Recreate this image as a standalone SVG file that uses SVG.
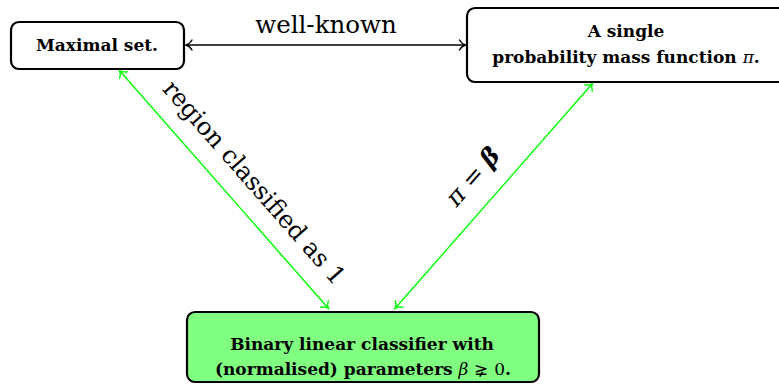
<svg xmlns="http://www.w3.org/2000/svg" width="779" height="384" viewBox="0 0 779 384">
  <style>
    .box { fill: #ffffff; stroke: #000000; stroke-width: 2.2; }
    .box.green { fill: #80ff80; }
    .nodetext { font-family: "DejaVu Serif", "Liberation Serif", serif; font-weight: bold; font-size: 17px; fill: #000000; text-anchor: middle; }
    .math { font-weight: normal; font-style: italic; }
    .mathup { font-weight: normal; }
    .label { font-family: "DejaVu Serif", "Liberation Serif", serif; font-size: 24.5px; fill: #000000; text-anchor: middle; }
    .edge { fill: none; stroke-width: 1.4; }
    .edge.black { stroke: #000000; marker-start: url(#tipBlack); marker-end: url(#tipBlack); }
    .edge.green { stroke: #00ff00; marker-start: url(#tipGreen); marker-end: url(#tipGreen); }
  </style>
  <defs>
    <marker id="tipBlack" viewBox="-9 -7 11 14" markerWidth="11" markerHeight="14" refX="0" refY="0" markerUnits="userSpaceOnUse" orient="auto-start-reverse">
      <path d="M -6 -5 C -4.5 -2.2, -2 -0.6, 0 0 C -2 0.6, -4.5 2.2, -6 5" fill="none" stroke="#000000" stroke-width="1.4" stroke-linecap="round"/>
    </marker>
    <marker id="tipGreen" viewBox="-9 -7 11 14" markerWidth="11" markerHeight="14" refX="0" refY="0" markerUnits="userSpaceOnUse" orient="auto-start-reverse">
      <path d="M -6 -5 C -4.5 -2.2, -2 -0.6, 0 0 C -2 0.6, -4.5 2.2, -6 5" fill="none" stroke="#00ff00" stroke-width="1.4" stroke-linecap="round"/>
    </marker>
  </defs>

  <!-- connectors -->
  <g id="connectors">
    <line class="edge black" x1="186" y1="45" x2="465.5" y2="45"/>
    <text class="label" x="326" y="33">well-known</text>

    <line class="edge green" x1="119.5" y1="70.5" x2="328.5" y2="308.5"/>
    <text class="label" transform="translate(248 188) rotate(48.7)">region classified as 1</text>

    <line class="edge green" x1="395" y1="308.5" x2="592.5" y2="83.5"/>
    <text class="label" font-size="27" transform="translate(479 182) rotate(-48.7)"><tspan class="math">π</tspan> = <tspan font-weight="bold" font-style="italic">β</tspan></text>
  </g>

  <!-- nodes -->
  <g id="maximal-set">
    <rect class="box" x="11" y="22" width="173" height="47" rx="8"/>
    <text class="nodetext" x="97" y="51">Maximal set.</text>
  </g>

  <g id="pmf">
    <rect class="box" x="467" y="8" width="320" height="74" rx="8"/>
    <text class="nodetext" x="626" y="37">A single</text>
    <text class="nodetext" x="626" y="63">probability mass function <tspan class="math">π</tspan>.</text>
  </g>

  <g id="classifier">
    <rect class="box green" x="187" y="312" width="352" height="70" rx="8"/>
    <text class="nodetext" x="362" y="350">Binary linear classifier with</text>
    <text class="nodetext" x="363" y="375">(normalised) parameters <tspan class="math">β</tspan> <tspan class="mathup">⪈</tspan> <tspan class="mathup">0</tspan>.</text>
  </g>
</svg>
